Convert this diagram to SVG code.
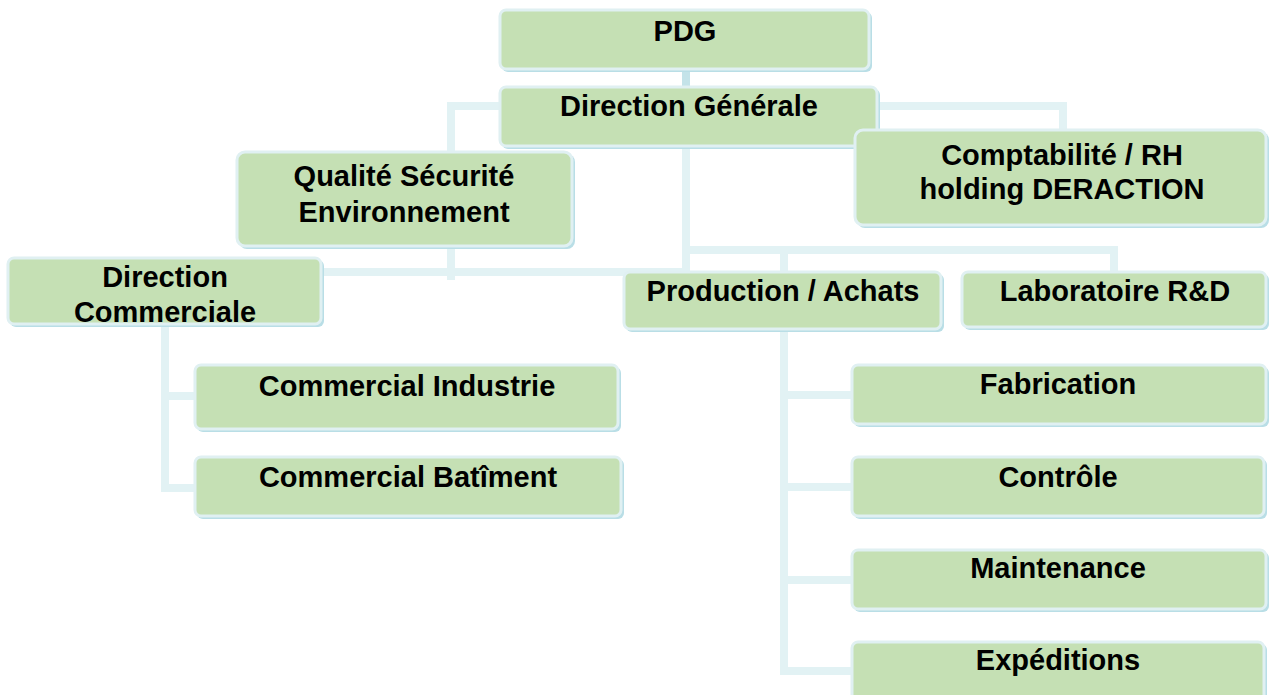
<svg xmlns="http://www.w3.org/2000/svg" width="1269" height="695" viewBox="0 0 1269 695">
<style>
.c{stroke:#E2F2F4;stroke-width:8;fill:none;stroke-linecap:square}
.sh{fill:#B9DEE6}
.bx{fill:#C5E0B4;stroke:#E0F0F2;stroke-width:3}
.t{font-family:"Liberation Sans",Arial,sans-serif;font-weight:bold;font-size:29px;fill:#000;text-anchor:middle}
</style>
<rect width="1269" height="695" fill="#fff"/>
<g id="connectors">
<line class="c" x1="686" y1="72" x2="686" y2="86" style="stroke:#C4E3E9"/>
<polyline class="c" points="500,106 451,106 451,276"/>
<polyline class="c" points="878,106 1063,106 1063,128"/>
<line class="c" x1="686" y1="147" x2="686" y2="272"/>
<polyline class="c" points="322,272 686,272"/>
<polyline class="c" points="686,250 1114,250 1114,270"/>
<line class="c" x1="784" y1="250" x2="784" y2="270"/>
<polyline class="c" points="196,396 165,396 165,328"/>
<polyline class="c" points="165,396 165,488 196,488"/>
<polyline class="c" points="784,333 784,671 850,671"/>
<line class="c" x1="784" y1="395" x2="850" y2="395"/>
<line class="c" x1="784" y1="487" x2="850" y2="487"/>
<line class="c" x1="784" y1="580" x2="850" y2="580"/>
</g>
<g id="pdg"><rect class="sh" x="502" y="12" width="370" height="60" rx="6"/><rect class="bx" x="500" y="10" width="369" height="59" rx="6"/><text class="t" x="685" y="41">PDG</text></g>
<g id="dg"><rect class="sh" x="502" y="89" width="378" height="60" rx="6"/><rect class="bx" x="500" y="87" width="377" height="59" rx="6"/><text class="t" x="689" y="116">Direction Générale</text></g>
<g id="qse"><rect class="sh" x="239" y="154" width="336" height="95" rx="8"/><rect class="bx" x="237" y="152" width="335" height="94" rx="8"/><text class="t" x="404" y="186">Qualité Sécurité</text><text class="t" x="404" y="222">Environnement</text></g>
<g id="compta"><rect class="sh" x="857" y="132" width="412" height="96" rx="8"/><rect class="bx" x="855" y="130" width="411" height="95" rx="8"/><text class="t" x="1062" y="165">Comptabilité / RH</text><text class="t" x="1062" y="199">holding DERACTION</text></g>
<g id="dircom"><rect class="sh" x="10" y="260" width="314" height="67" rx="6"/><rect class="bx" x="8" y="258" width="313" height="66" rx="6"/><text class="t" x="165" y="287">Direction</text><text class="t" x="165" y="322">Commerciale</text></g>
<g id="prod"><rect class="sh" x="626" y="274" width="318" height="58" rx="6"/><rect class="bx" x="624" y="272" width="317" height="57" rx="6"/><text class="t" x="783" y="301">Production / Achats</text></g>
<g id="labo"><rect class="sh" x="964" y="274" width="305" height="56" rx="6"/><rect class="bx" x="962" y="272" width="304" height="55" rx="6"/><text class="t" x="1115" y="301">Laboratoire R&amp;D</text></g>
<g id="comind"><rect class="sh" x="197" y="367" width="424" height="65" rx="6"/><rect class="bx" x="195" y="365" width="423" height="64" rx="6"/><text class="t" x="407" y="396">Commercial Industrie</text></g>
<g id="combat"><rect class="sh" x="197" y="459" width="427" height="60" rx="6"/><rect class="bx" x="195" y="457" width="426" height="59" rx="6"/><text class="t" x="408" y="487">Commercial Batîment</text></g>
<g id="fab"><rect class="sh" x="854" y="367" width="415" height="60" rx="6"/><rect class="bx" x="852" y="365" width="414" height="59" rx="6"/><text class="t" x="1058" y="394">Fabrication</text></g>
<g id="ctrl"><rect class="sh" x="854" y="459" width="413" height="60" rx="6"/><rect class="bx" x="852" y="457" width="412" height="59" rx="6"/><text class="t" x="1058" y="487">Contrôle</text></g>
<g id="maint"><rect class="sh" x="854" y="552" width="415" height="60" rx="6"/><rect class="bx" x="852" y="550" width="414" height="59" rx="6"/><text class="t" x="1058" y="578">Maintenance</text></g>
<g id="exped"><rect class="sh" x="854" y="644" width="413" height="60" rx="6"/><rect class="bx" x="852" y="642" width="412" height="60" rx="6"/><text class="t" x="1058" y="670">Expéditions</text></g>
</svg>
